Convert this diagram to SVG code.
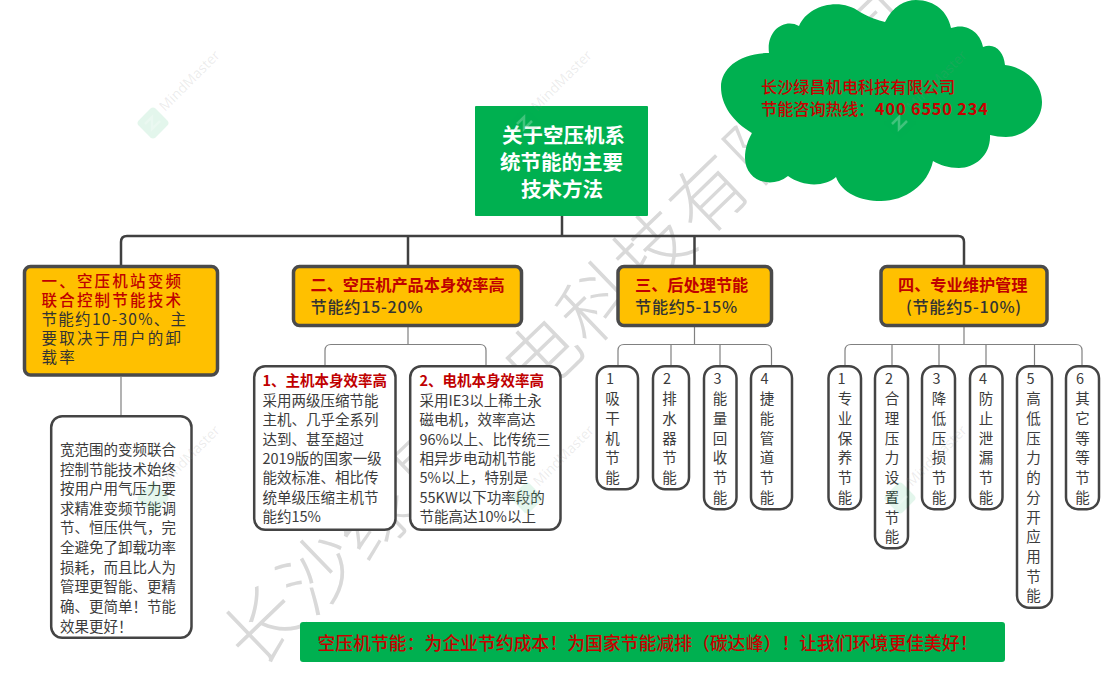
<svg xmlns="http://www.w3.org/2000/svg" xmlns:xlink="http://www.w3.org/1999/xlink" width="1119" height="680" viewBox="0 0 1119 680">
<style>
text{font-family:"Noto Sans CJK SC","Liberation Sans",sans-serif;font-kerning:none}
.wm{font-size:75px;fill:#d9d9d9;font-weight:300;letter-spacing:2.500px}
.mm{font-family:"Open Sans",sans-serif;font-size:14px;fill:#888;fill-opacity:.16}
.ico{fill:#00b050;fill-opacity:.11}
.c1{fill:none;stroke:#404040;stroke-width:2.5}
.c2{fill:none;stroke:#808080;stroke-width:1.2}
.y{fill:#ffc000;stroke:#4a4a4a;stroke-width:3.5}
.w{fill:#fff;stroke:#444;stroke-width:2.5}
.g{fill:#00b050}
.t{font-size:14.5px;fill:#3c3c3c}
.r{fill:#c00000;font-weight:700}
.h{font-size:16.2px;font-weight:700}
.k{fill:#333;font-weight:500;letter-spacing:.7px}
.v{font-size:14.5px;fill:#3c3c3c;text-anchor:middle}
.q{font-size:15.5px;letter-spacing:2.2px;fill:#333}
.rt{font-size:20.5px;font-weight:700;fill:#fff}
.cl{font-size:16.2px;fill:#c80000;font-weight:500}
</style>
<defs>
<g id="mind">
<rect class="ico" x="-12" y="-12" width="24" height="24" rx="4" transform="rotate(-45)"/>
<path d="M-8 1L-1 -6V6L7 -2" fill="none" stroke="#fff" stroke-opacity=".25" stroke-width="2.5"/>
<text class="mm" transform="translate(12 -11) rotate(-45)">MindMaster</text>
</g>
</defs>
<g id="watermark">
<text class="wm" transform="translate(255 671.500) rotate(-44)">长沙绿昌机电科技有限公司</text>
</g>
<g id="connectors">
<path class="c1" d="M562 215V236M121 265V242Q121 236 127 236H958Q964 236 964 242V265M408 236V265M694.500 236V265"/>
<path class="c2" d="M121 377V415M408 327V344.500M325 365V350.500Q325 344.500 331 344.500H480Q486 344.500 486 350.500V365M694.500 327V344.500M618 365V350.500Q618 344.500 624 344.500H765.500Q771.500 344.500 771.500 350.500V365M671 344.500V365M720 344.500V365M964 327V344.500M845 365V350.500Q845 344.500 851 344.500H1076Q1082 344.500 1082 350.500V365M892 344.500V365M939 344.500V365M986 344.500V365M1034.500 344.500V365"/>
</g>
<g id="root"><rect class="g" x="475" y="106" width="173" height="110" rx="1"/>
<text class="rt" x="502" y="142.500">关于空压机系</text>
<text class="rt" x="500" y="169.500">统节能的主要</text>
<text class="rt" x="521" y="196.500">技术方法</text></g>
<g id="cloud"><path class="g" d="M769 53C766 30 785 18 799 26C808 5 840 -3 860 12C870 18 878 20 885 22C893 6 905 0 916 0C935 0 948 12 951 28C968 22 981 34 983 47C995 42 1004 52 1005 65C1028 68 1042 85 1042 102C1042 122 1024 137 1006 137C1000 137 995 136 990 135C991 155 975 168 959 168C948 168 940 165 933 161C928 185 905 201 881 201C860 201 842 193 836 177C825 187 803 187 788 176C770 190 745 180 745 158C745 148 748 140 752 133C733 122 721 105 721 87C721 68 740 53 769 53Z"/>
<text class="cl" x="761" y="93">长沙绿昌机电科技有限公司</text>
<text class="cl" x="761" y="115">节能咨询热线：<tspan x="875" style="letter-spacing:.9px;font-weight:700">400 6550 234</tspan></text></g>
<g id="n1"><rect class="y" x="24.500" y="266.500" width="193" height="108.500" rx="6"/>
<text x="41.500" y="287" class="q" style="fill:#c00000;font-weight:500">一、空压机站变频</text>
<text x="41.500" y="306" class="q" style="fill:#c00000;font-weight:500">联合控制节能技术</text>
<text x="41.500" y="325" class="q" style="letter-spacing:1.300px">节能约10-30%、主</text>
<text x="41.500" y="344" class="q">要取决于用户的卸</text>
<text x="41.500" y="363" class="q">载率</text></g>
<g id="n1a"><rect class="w" x="51.200" y="416.200" width="140.300" height="221.600" rx="11"/>
<g class="t">
<text x="60" y="454.500">宽范围的变频联合</text><text x="60" y="474.500">控制节能技术始终</text><text x="60" y="494">按用户用气压力要</text><text x="60" y="513.500">求精准变频节能调</text><text x="60" y="533">节、恒压供气，完</text><text x="60" y="553">全避免了卸载功率</text><text x="60" y="572.500">损耗，而且比人为</text><text x="60" y="592">管理更智能、更精</text><text x="60" y="612">确、更简单！节能</text><text x="60" y="631.500">效果更好！</text></g></g>
<g id="n2"><rect class="y" x="293.500" y="266.500" width="228" height="59" rx="6"/>
<text class="h r" x="310.500" y="291">二、空压机产品本身效率高</text><text class="h k" x="310.500" y="312.500">节能约15-20%</text></g>
<g id="n2a"><rect class="w" x="254.200" y="366.200" width="141.300" height="163.600" rx="11"/>
<text x="262.500" y="385.500" class="r" style="font-size:14.500px">1、主机本身效率高</text>
<g class="t"><text x="262.500" y="405.500">采用两级压缩节能</text><text x="262.500" y="425">主机、几乎全系列</text><text x="262.500" y="444.500">达到、甚至超过</text><text x="262.500" y="463.500">2019版的国家一级</text><text x="262.500" y="483">能效标准、相比传</text><text x="262.500" y="503">统单级压缩主机节</text><text x="262.500" y="522">能约15%</text></g></g>
<g id="n2b"><rect class="w" x="410.200" y="366.200" width="150.300" height="163.600" rx="11"/>
<text x="419.500" y="385.500" class="r" style="font-size:14.500px">2、电机本身效率高</text>
<g class="t"><text x="419.500" y="405.500">采用IE3以上稀土永</text><text x="419.500" y="425">磁电机，效率高达</text><text x="419.500" y="444.500">96%以上、比传统三</text><text x="419.500" y="463.500">相异步电动机节能</text><text x="419.500" y="483">5%以上，特别是</text><text x="419.500" y="503">55KW以下功率段的</text><text x="419.500" y="522">节能高达10%以上</text></g></g>
<g id="n3"><rect class="y" x="618" y="266.500" width="153.500" height="59" rx="6"/>
<text class="h r" x="635" y="291">三、后处理节能</text><text class="h k" x="635" y="312.500">节能约5-15%</text></g>
<g id="n4"><rect class="y" x="881" y="266.500" width="166" height="59" rx="6"/>
<text class="h r" x="898" y="291">四、专业维护管理</text><text class="h k" x="906" y="312.500">(节能约5-10%)</text></g>
<g id="n3-1"><rect class="w" x="596.700" y="366.200" width="41.300" height="123" rx="12"/><g class="v"><text x="610" y="384">1</text><text x="612.500" y="404">吸</text><text x="612.500" y="424">干</text><text x="612.500" y="444">机</text><text x="612.500" y="463">节</text><text x="612.500" y="483">能</text></g></g>
<g id="n3-2"><rect class="w" x="653" y="366.200" width="36" height="123" rx="12"/><g class="v"><text x="667" y="384">2</text><text x="669.500" y="404">排</text><text x="669.500" y="424">水</text><text x="669.500" y="444">器</text><text x="669.500" y="463">节</text><text x="669.500" y="483">能</text></g></g>
<g id="n3-3"><rect class="w" x="704" y="366.200" width="32.500" height="143" rx="12"/><g class="v"><text x="717.500" y="384">3</text><text x="720" y="404">能</text><text x="720" y="424">量</text><text x="720" y="444">回</text><text x="720" y="463">收</text><text x="720" y="483">节</text><text x="720" y="503">能</text></g></g>
<g id="n3-4"><rect class="w" x="751" y="366.200" width="41" height="143" rx="12"/><g class="v"><text x="764.500" y="384">4</text><text x="767" y="404">捷</text><text x="767" y="424">能</text><text x="767" y="444">管</text><text x="767" y="463">道</text><text x="767" y="483">节</text><text x="767" y="503">能</text></g></g>
<g id="n4-1"><rect class="w" x="828.500" y="366.200" width="32.500" height="143" rx="12"/><g class="v"><text x="841.500" y="384">1</text><text x="845" y="404">专</text><text x="845" y="424">业</text><text x="845" y="444">保</text><text x="845" y="463">养</text><text x="845" y="483">节</text><text x="845" y="503">能</text></g></g>
<g id="n4-2"><rect class="w" x="875" y="366.200" width="33" height="182" rx="12"/><g class="v"><text x="889" y="384">2</text><text x="892" y="404">合</text><text x="892" y="424">理</text><text x="892" y="444">压</text><text x="892" y="463">力</text><text x="892" y="483">设</text><text x="892" y="503">置</text><text x="892" y="523">节</text><text x="892" y="542">能</text></g></g>
<g id="n4-3"><rect class="w" x="922" y="366.200" width="33" height="143" rx="12"/><g class="v"><text x="936.500" y="384">3</text><text x="939" y="404">降</text><text x="939" y="424">低</text><text x="939" y="444">压</text><text x="939" y="463">损</text><text x="939" y="483">节</text><text x="939" y="503">能</text></g></g>
<g id="n4-4"><rect class="w" x="970" y="366.200" width="32.500" height="143" rx="12"/><g class="v"><text x="983" y="384">4</text><text x="986" y="404">防</text><text x="986" y="424">止</text><text x="986" y="444">泄</text><text x="986" y="463">漏</text><text x="986" y="483">节</text><text x="986" y="503">能</text></g></g>
<g id="n4-5"><rect class="w" x="1017" y="366.200" width="35" height="241.500" rx="12"/><g class="v"><text x="1030.500" y="384">5</text><text x="1033.500" y="404">高</text><text x="1033.500" y="424">低</text><text x="1033.500" y="444">压</text><text x="1033.500" y="463">力</text><text x="1033.500" y="483">的</text><text x="1033.500" y="503">分</text><text x="1033.500" y="523">开</text><text x="1033.500" y="542">应</text><text x="1033.500" y="562">用</text><text x="1033.500" y="582">节</text><text x="1033.500" y="601">能</text></g></g>
<g id="n4-6"><rect class="w" x="1066" y="366.200" width="33" height="143" rx="12"/><g class="v"><text x="1080" y="384">6</text><text x="1082.500" y="404">其</text><text x="1082.500" y="424">它</text><text x="1082.500" y="444">等</text><text x="1082.500" y="463">等</text><text x="1082.500" y="483">节</text><text x="1082.500" y="503">能</text></g></g>
<g id="banner"><rect class="g" x="300" y="622" width="705" height="40" rx="3"/>
<text x="317.500" y="649.500" font-size="17.700" fill="#c80000" font-weight="500" textLength="660" lengthAdjust="spacing">空压机节能：为企业节约成本！为国家节能减排（碳达峰）！让我们环境更佳美好！</text></g>
<g id="mindmaster-marks">
<use xlink:href="#mind" x="153" y="123"/><use xlink:href="#mind" x="525" y="123"/><use xlink:href="#mind" x="900" y="123"/>
<use xlink:href="#mind" x="153" y="498"/><use xlink:href="#mind" x="527" y="498"/><use xlink:href="#mind" x="900" y="498"/>
</g>
</svg>
